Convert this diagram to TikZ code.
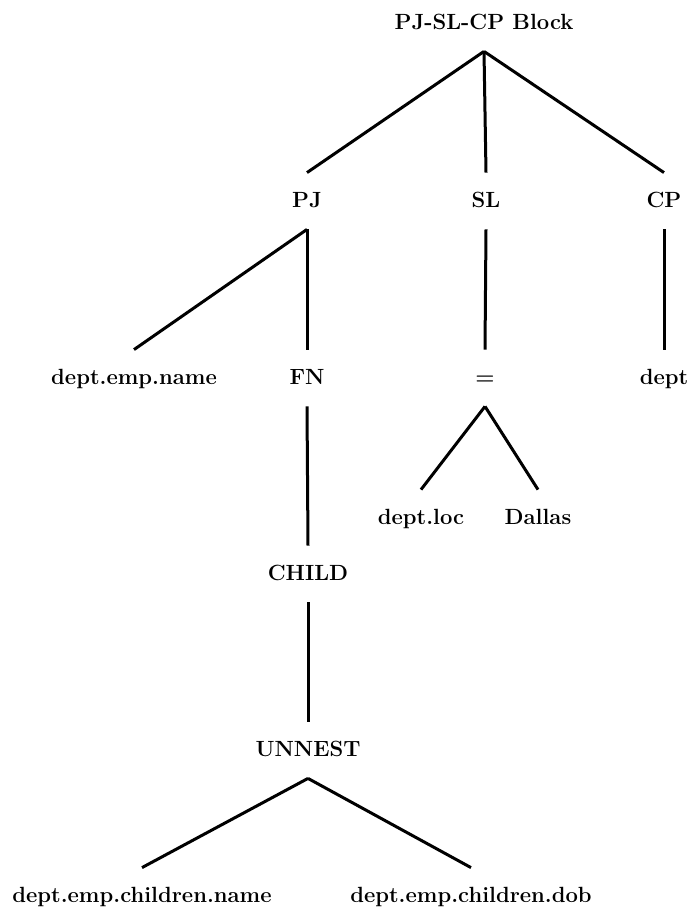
\documentclass[tikz,border=0pt]{standalone}
\usepackage{amsmath}
\usepackage{tikz}

\begin{document}
\begin{tikzpicture}[x=0.5pt,y=-0.5pt,
  lbl/.style={font=\fontsize{11}{13}\selectfont\bfseries, text height=8pt, text depth=2pt, inner ysep=9pt, inner xsep=0pt},
  br/.style={line width=1.5pt}]
\useasboundingbox (0,0) rectangle (692,910);
\node[lbl] (blk) at (484,23) {PJ-SL-CP Block};
\node[lbl] (pj) at (307,201) {PJ};
\node[lbl] (sl) at (486,201) {SL};
\node[lbl] (cp) at (664,201) {CP};
\draw[br] (blk.south) -- (pj.north);
\draw[br] (blk.south) -- (sl.north);
\draw[br] (blk.south) -- (cp.north);

\node[lbl] (ename) at (134,378) {dept.emp.name};
\node[lbl] (fn) at (307,378) {FN};
\node[lbl] (eq) at (485,378) {=};
\node[lbl] (dept) at (664,378) {dept};
\draw[br] (pj.south) -- (ename.north);
\draw[br] (pj.south) -- (fn.north);
\draw[br] (sl.south) -- (eq.north);
\draw[br] (cp.south) -- (dept.north);

\node[lbl] (loc) at (421,518) {dept.loc};
\node[lbl] (dallas) at (538,518) {Dallas};
\draw[br] (eq.south) -- (loc.north);
\draw[br] (eq.south) -- (dallas.north);

\node[lbl] (child) at (308,574) {CHILD};
\node[lbl] (unnest) at (308,750) {UNNEST};
\draw[br] (fn.south) -- (child.north);
\draw[br] (child.south) -- (unnest.north);

\node[lbl] (cname) at (142,896) {dept.emp.children.name};
\node[lbl] (cdob) at (471,896) {dept.emp.children.dob};
\draw[br] (unnest.south) -- (cname.north);
\draw[br] (unnest.south) -- (cdob.north);
\end{tikzpicture}
\end{document}
